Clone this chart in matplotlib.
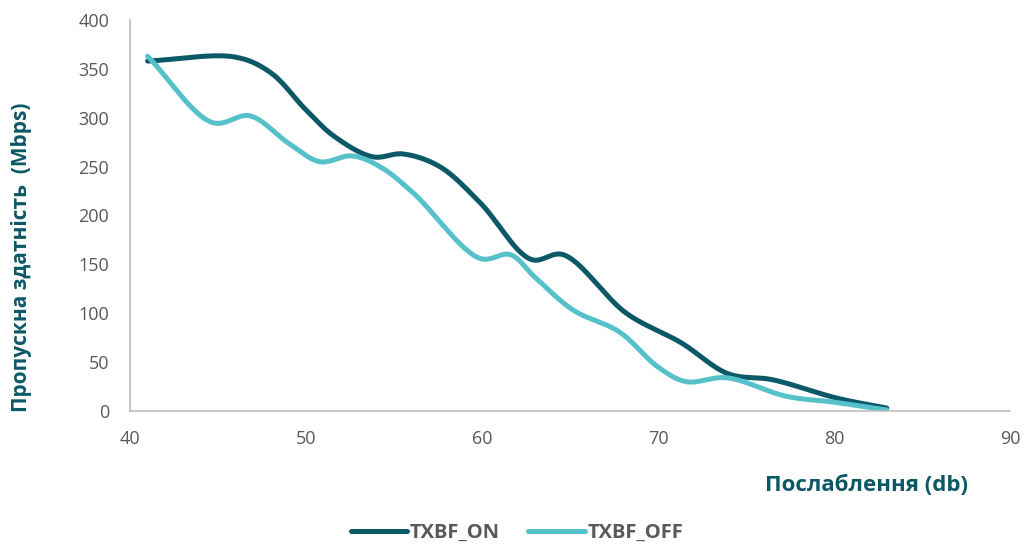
import numpy as np
import matplotlib
matplotlib.use('Agg')
import matplotlib.pyplot as plt

# Data
on_x = [41, 46, 48, 50, 51.6, 53.8, 55.5, 57.6, 59.9, 62.8, 64.6, 68.2, 71.3, 74, 76.5, 80.2, 83]
on_y = [358, 362, 346, 308, 281, 260, 263, 250, 213, 155, 160, 100, 70, 38, 32, 13, 3]

off_x = [41, 44.7, 46.8, 49, 50.8, 52.6, 54.2, 56.1, 59.9, 61.6, 63, 65.2, 67.8, 70, 71.6, 73.9, 77.3, 80, 83]
off_y = [363, 295, 302, 274, 255, 261, 250, 223, 156, 160, 137, 103, 81, 45, 30, 34, 15, 9, 1]

x_ticks = [40, 50, 60, 70, 80, 90]
y_ticks = [0, 50, 100, 150, 200, 250, 300, 350, 400]

col_on = '#0B5866'
col_off = '#56C1CB'
col_lab = '#0D5866'
col_tick = '#595959'


# centripetal Catmull-Rom through the points (looks like Excel's smoothed line)
# sx, sy scale data units to roughly screen pixels so the knot spacing is fair
def smooth(xs, ys, n=30, sx=17.6, sy=0.98):
    p = np.column_stack([np.asarray(xs, float) * sx, np.asarray(ys, float) * sy])
    p = np.vstack([2 * p[0] - p[1], p, 2 * p[-1] - p[-2]])
    out = []
    for i in range(1, len(p) - 2):
        p0, p1, p2, p3 = p[i - 1], p[i], p[i + 1], p[i + 2]
        t0 = 0.0
        t1 = t0 + np.linalg.norm(p1 - p0) ** 0.5
        t2 = t1 + np.linalg.norm(p2 - p1) ** 0.5
        t3 = t2 + np.linalg.norm(p3 - p2) ** 0.5
        t = np.linspace(t1, t2, n, endpoint=False)[:, None]
        a1 = (t1 - t) / (t1 - t0) * p0 + (t - t0) / (t1 - t0) * p1
        a2 = (t2 - t) / (t2 - t1) * p1 + (t - t1) / (t2 - t1) * p2
        a3 = (t3 - t) / (t3 - t2) * p2 + (t - t2) / (t3 - t2) * p3
        b1 = (t2 - t) / (t2 - t0) * a1 + (t - t0) / (t2 - t0) * a2
        b2 = (t3 - t) / (t3 - t1) * a2 + (t - t1) / (t3 - t1) * a3
        out.append((t2 - t) / (t2 - t1) * b1 + (t - t1) / (t2 - t1) * b2)
    out.append(p[-2][None, :])
    out = np.vstack(out)
    return out[:, 0] / sx, out[:, 1] / sy


plt.rcParams['font.family'] = ['Open Sans', 'DejaVu Sans']

fig = plt.figure(figsize=(10.27, 5.45), dpi=100)
ax = fig.add_axes([0.1266, 0.2459, 0.9834 - 0.1266, 0.9633 - 0.2459])

lx, ly = smooth(on_x, on_y)
ax.plot(lx, ly, color=col_on, lw=3.6, solid_capstyle='round', label='TXBF_ON')
lx, ly = smooth(off_x, off_y)
ax.plot(lx, ly, color=col_off, lw=3.6, solid_capstyle='round', label='TXBF_OFF')

ax.set_xlim(40, 90)
ax.set_ylim(0, 400)
ax.set_xticks(x_ticks)
ax.set_yticks(y_ticks)
ax.tick_params(length=0, labelsize=13, colors=col_tick)
ax.tick_params(axis='x', pad=14)
ax.tick_params(axis='y', pad=15)

for s in ['top', 'right']:
    ax.spines[s].set_visible(False)
for s in ['left', 'bottom']:
    ax.spines[s].set_color('#BFBFBF')
    ax.spines[s].set_linewidth(1.2)

fig.text(968 / 1027, 1 - 485 / 545, 'Послаблення (db)', ha='right', va='center',
         fontsize=16, fontweight='bold', color=col_lab)
fig.text(22 / 1027, 1 - 257 / 545, 'Пропускна здатність  (Mbps)', ha='center', va='center',
         rotation=90, fontsize=15, fontweight='bold', color=col_lab)

leg = fig.legend(loc='center', bbox_to_anchor=(517 / 1027, 1 - 533 / 545), ncol=2,
                 frameon=False, handlelength=2.8, columnspacing=1.4, handletextpad=0.15,
                 prop={'weight': 'bold', 'size': 14.5})
for t in leg.get_texts():
    t.set_color(col_tick)

fig.savefig('out.png', dpi=100)
